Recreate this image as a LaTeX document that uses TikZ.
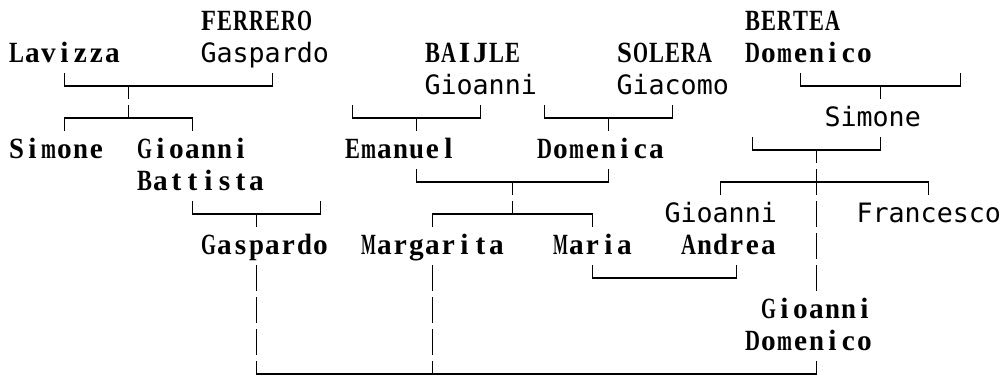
\documentclass[tikz,border=0pt]{standalone}
\usepackage{fontspec}
\newfontfamily\monosans{DejaVu Sans Mono}
\newfontfamily\cellserif{Liberation Serif}
% set each letter of a word centred in its own fixed-width cell,
% squeezing letters that are wider than the cell
\makeatletter
\def\cellword#1{\cell@loop#1\relax}
\def\cell@loop#1{\ifx#1\relax\else\cell@one{#1}\expandafter\cell@loop\fi}
\def\cell@one#1{\setbox0\hbox{#1}%
  \ifdim\wd0>11.2pt
    \makebox[12pt][c]{\scalebox{\fpeval{11.2/\strip@pt\wd0}}[1]{#1}}%
  \else
    \makebox[12pt][c]{#1}%
  \fi}
\makeatother
\tikzset{
  txt/.style={anchor=base west, inner sep=0pt, outer sep=0pt},
  sr/.style={txt, font=\cellserif\bfseries\fontsize{22pt}{24pt}\selectfont},
  ss/.style={txt, font=\monosans\fontsize{20pt}{24pt}\selectfont},
  ln/.style={line width=1.4pt, line join=miter, line cap=butt},
}
% name, column, row, text
\newcommand\TS[4]{\node[sr] (#1) at ({8.5+16*#2},{30+32*#3}) {\cellword{#4}};}
\newcommand\TG[4]{\node[ss] (#1) at ({8.5+16*#2},{30+32*#3}) {#4};}
\begin{document}
\begin{tikzpicture}[x=0.75pt,y=-0.75pt]
\useasboundingbox (0,0) rectangle (1002,379);
% ---- names ----
\TS{ferrero}{12}{0}{FERRERO}
\TS{lavizza}{0}{1}{Lavizza}
\TG{gaspardoF}{12}{1}{Gaspardo}
\TS{baijle}{26}{1}{BAIJLE}
\TG{gioanniB}{26}{2}{Gioanni}
\TS{solera}{38}{1}{SOLERA}
\TG{giacomo}{38}{2}{Giacomo}
\TS{bertea}{46}{0}{BERTEA}
\TS{domenicoB}{46}{1}{Domenico}
\TG{simoneB}{51}{3}{Simone}
\TS{simone}{0}{4}{Simone}
\TS{gioanniBat}{8}{4}{Gioanni}
\TS{battista}{8}{5}{Battista}
\TS{emanuel}{21}{4}{Emanuel}
\TS{domenica}{33}{4}{Domenica}
\TG{gioanniA}{41}{6}{Gioanni}
\TG{francesco}{53}{6}{Francesco}
\TS{gaspardo}{12}{7}{Gaspardo}
\TS{margarita}{22}{7}{Margarita}
\TS{maria}{34}{7}{Maria}
\TS{andrea}{42}{7}{Andrea}
\TS{gioanniD}{47}{9}{Gioanni}
\TS{domenicoD}{46}{10}{Domenico}
% ---- connectors (box-drawing grid: x = 16.5+16c, y = 22+32r) ----
% Lavizza + Gaspardo -> Simone, Gioanni Battista
\draw[ln] (64.5,73) -- (64.5,86) -- (272.5,86) -- (272.5,73);
\draw[ln] (128.5,86) -- (128.5,99);
\draw[ln] (128.5,105) -- (128.5,118);
\draw[ln] (64.5,131) -- (64.5,118) -- (192.5,118) -- (192.5,131);
% Gioanni BAIJLE -> Emanuel
\draw[ln] (352.5,105) -- (352.5,118) -- (480.5,118) -- (480.5,105);
\draw[ln] (416.5,118) -- (416.5,131);
% Giacomo SOLERA -> Domenica
\draw[ln] (544.5,105) -- (544.5,118) -- (672.5,118) -- (672.5,105);
\draw[ln] (608.5,118) -- (608.5,131);
% Domenico BERTEA -> Simone
\draw[ln] (800.5,73) -- (800.5,86) -- (960.5,86) -- (960.5,73);
\draw[ln] (880.5,86) -- (880.5,99);
% Simone -> Gioanni Andrea, Gioanni Domenico, Francesco
\draw[ln] (752.5,137) -- (752.5,150) -- (880.5,150) -- (880.5,137);
\draw[ln] (816.5,150) -- (816.5,163);
\draw[ln] (720.5,195) -- (720.5,182) -- (928.5,182) -- (928.5,195);
\draw[ln] (816.5,169) -- (816.5,195);
\foreach \r in {6,7,8} \draw[ln] (816.5,{22+32*\r-13}) -- (816.5,{22+32*\r+13});
% Emanuel + Domenica -> Margarita, Maria
\draw[ln] (416.5,169) -- (416.5,182) -- (608.5,182) -- (608.5,169);
\draw[ln] (512.5,182) -- (512.5,195);
\draw[ln] (512.5,201) -- (512.5,214);
\draw[ln] (432.5,227) -- (432.5,214) -- (592.5,214) -- (592.5,227);
% Gioanni Battista -> Gaspardo
\draw[ln] (192.5,201) -- (192.5,214) -- (320.5,214) -- (320.5,201);
\draw[ln] (256.5,214) -- (256.5,227);
% Maria + Gioanni Andrea
\draw[ln] (592.5,265) -- (592.5,278) -- (736.5,278) -- (736.5,265);
% Gaspardo, Margarita, Gioanni Domenico
\foreach \r in {8,9,10} {
  \draw[ln] (256.5,{22+32*\r-13}) -- (256.5,{22+32*\r+13});
  \draw[ln] (432.5,{22+32*\r-13}) -- (432.5,{22+32*\r+13});
}
\draw[ln] (256.5,361) -- (256.5,374) -- (816.5,374) -- (816.5,361);
\draw[ln] (432.5,361) -- (432.5,374);
\end{tikzpicture}
\end{document}
